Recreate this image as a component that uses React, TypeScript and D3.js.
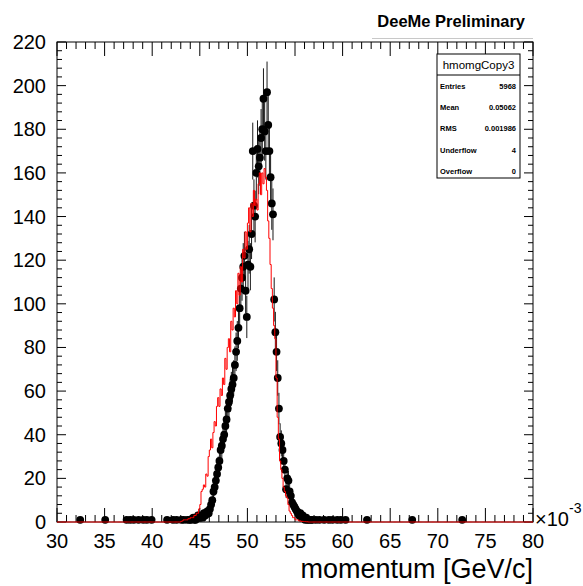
import React from "react";
import * as d3 from "d3";

// ---- histogram definition (momentum in MeV/c, axis shown as GeV/c ×10^-3) ----
const X_MIN = 30;
const X_MAX = 80;
const N_BINS = 400;
const Y_MAX = 220;
const FIRST_BIN_MEV = 43.0;

// black data histogram (counts per bin, starting at 43.0 MeV/c, 8 bins per MeV)
const dataCounts: number[] = [
  1, 0, 1, 0, 0, 1, 0, 1,
  1, 0, 2, 1, 1, 2, 3, 2,
  2, 3, 2, 4, 3, 4, 5, 4,
  6, 8, 10, 14, 16, 19, 22, 25,
  28, 33, 35, 38, 40, 44, 47, 52,
  55, 58, 61, 63, 66, 72, 78, 83,
  89, 98, 107, 112, 117, 122, 106, 94,
  118, 125, 117, 132, 170, 145, 140, 160,
  171, 163, 167, 176, 180, 194, 179, 170,
  197, 182, 170, 158, 146, 141, 102, 87,
  78, 66, 52, 39, 36, 33, 28, 24,
  15, 20, 19, 14, 12, 9, 8, 7,
  6, 5, 4, 3, 4, 2, 3, 2,
  1, 2, 1, 1, 0, 1, 1, 0,
];

// isolated single entries in the tails (MeV/c)
const dataSingles: number[] = [
  32.4, 35.1, 37.3, 37.7, 38.1, 38.6, 39.0, 39.4, 39.9, 41.6, 42.2, 42.6,
  57.2, 57.6, 58.1, 58.5, 58.9, 59.4, 59.8, 60.3, 62.5, 67.3, 72.6,
];

// red comparison histogram (same binning, starting at 43.0 MeV/c)
const mcCounts: number[] = [
  0.3, 0.5, 1, 1, 1, 1, 1.5, 1.5,
  2, 2, 2, 3, 3, 4, 4, 6,
  8, 14, 15, 17, 16, 22, 21, 30,
  33, 38, 34, 41, 46, 44, 53, 57,
  53, 61, 58, 66, 63, 75, 70, 80,
  84, 78, 92, 88, 98, 94, 106, 100,
  114, 104, 117, 110, 125, 121, 133, 125,
  137, 144, 133, 146, 140, 152, 145, 148,
  143, 155, 160, 150, 160, 155, 162, 158,
  152, 138, 130, 118, 107, 98, 90, 84,
  66, 48, 38, 28, 24, 20, 16, 14,
  12, 11, 8, 5, 4, 3, 2, 2,
  1, 1, 1, 0.5, 0.5, 0.3, 0.3, 0.2,
  0.2, 0.1, 0.1, 0, 0, 0, 0, 0,
];

const xMajorTicks: number[] = [30, 35, 40, 45, 50, 55, 60, 65, 70, 75, 80];
const yMajorTicks: number[] = [0, 20, 40, 60, 80, 100, 120, 140, 160, 180, 200, 220];

const titleText = "DeeMe Preliminary";
const xAxisTitle = "momentum [GeV/c]";
const statsTitle = "hmomgCopy3";
const statsLabels: string[] = ["Entries", "Mean", "RMS", "Underflow", "Overflow"];
const statsValues: string[] = ["5968", "0.05062", "0.001986", "4", "0"];

const FONT = "'Liberation Sans', Arial, Helvetica, sans-serif";

export default function App() {
  const W = 583;
  const H = 586;
  const L = 57, R = 533, T = 42, B = 522;

  const x = d3.scaleLinear().domain([X_MIN, X_MAX]).range([L, R]);
  const y = d3.scaleLinear().domain([0, Y_MAX]).range([B, T]);

  const bw = (X_MAX - X_MIN) / N_BINS;
  const startBin = Math.round((FIRST_BIN_MEV - X_MIN) / bw);

  const data = new Array(N_BINS).fill(0);
  dataCounts.forEach((c, i) => (data[startBin + i] += c));
  dataSingles.forEach((v) => (data[Math.floor((v - X_MIN) / bw)] += 1));

  const mc = new Array(N_BINS).fill(0);
  mcCounts.forEach((c, i) => (mc[startBin + i] = c));

  const stepPts: [number, number][] = mc.map((v, i) => [X_MIN + i * bw, v]);
  stepPts.push([X_MAX, mc[N_BINS - 1]]);
  const stepLine = d3
    .line<[number, number]>()
    .x((d) => x(d[0]))
    .y((d) => y(d[1]))
    .curve(d3.curveStepAfter);

  const xMinor = d3.range(X_MIN, X_MAX + 0.001, 1);
  const yMinor = d3.range(0, Y_MAX + 0.001, 4);

  const points = data
    .map((c, i) => ({ c, xc: X_MIN + (i + 0.5) * bw }))
    .filter((d) => d.c > 0);

  const xMajLen = 14, xMinLen = 7, yMajLen = 9, yMinLen = 5;

  const sx = 437, sy = 54, sw = 83, sh = 124;

  return (
    <svg
      width={W}
      height={H}
      style={{ position: "absolute", left: 0, top: 0, background: "#fff" }}
      fontFamily={FONT}
    >
      <rect x={0} y={0} width={W} height={H} fill="#fff" />
      {/* title */}
      <line x1={372} x2={533} y1={38.5} y2={38.5} stroke="#c8c8c8" strokeWidth={1} />
      <text x={525} y={27} textAnchor="end" fontSize={16.5} fontWeight="bold">
        {titleText}
      </text>

      {/* black data: error bars + markers */}
      <g>
        {points.map((d, i) => {
          const e = Math.sqrt(d.c);
          return (
            <line
              key={"e" + i}
              x1={x(d.xc)}
              x2={x(d.xc)}
              y1={y(Math.max(0, d.c - e))}
              y2={y(d.c + e)}
              stroke="#1a1a1a"
              strokeWidth={1}
            />
          );
        })}
        {points.map((d, i) => (
          <circle key={"m" + i} cx={x(d.xc)} cy={y(d.c)} r={3.9} fill="#000" />
        ))}
      </g>

      {/* frame */}
      <rect x={L} y={T} width={R - L} height={B - T} fill="none" stroke="#000" strokeWidth={1} />

      {/* x ticks bottom & top, y ticks left & right */}
      <g stroke="#000" strokeWidth={1}>
        {xMinor.map((v, i) => {
          const major = Math.abs(v % 5) < 1e-6;
          const len = major ? xMajLen : xMinLen;
          return (
            <g key={"xt" + i}>
              <line x1={x(v)} x2={x(v)} y1={B} y2={B - len} />
              <line x1={x(v)} x2={x(v)} y1={T} y2={T + len} />
            </g>
          );
        })}
        {yMinor.map((v, i) => {
          const major = Math.abs(v % 20) < 1e-6;
          const len = major ? yMajLen : yMinLen;
          return (
            <g key={"yt" + i}>
              <line x1={L} x2={L + len} y1={y(v)} y2={y(v)} />
              <line x1={R} x2={R - len} y1={y(v)} y2={y(v)} />
            </g>
          );
        })}
      </g>

      {/* red histogram on top */}
      <path d={stepLine(stepPts) || ""} fill="none" stroke="#ff0000" strokeWidth={1} />

      {/* tick labels */}
      <g fontSize={20} fill="#000">
        {xMajorTicks.map((v) => (
          <text key={"xl" + v} x={x(v)} y={548} textAnchor="middle">
            {v}
          </text>
        ))}
        {yMajorTicks.map((v) => (
          <text key={"yl" + v} x={46} y={y(v) + 7} textAnchor="end">
            {v}
          </text>
        ))}
      </g>
      <text x={535} y={526} fontSize={20}>
        ×10
      </text>
      <text x={569} y={513} fontSize={14}>
        -3
      </text>
      <text x={533} y={578} textAnchor="end" fontSize={27}>
        {xAxisTitle}
      </text>

      {/* stats box */}
      <rect x={sx} y={sy} width={sw} height={sh} fill="#fff" stroke="#000" strokeWidth={1} />
      <line x1={sx} x2={sx + sw} y1={75} y2={75} stroke="#000" strokeWidth={1} />
      <text x={sx + sw / 2} y={69} textAnchor="middle" fontSize={11.5}>
        {statsTitle}
      </text>
      {statsLabels.map((lab, i) => (
        <g key={"s" + i} fontSize={7.5} fontWeight="bold">
          <text x={sx + 3} y={89 + i * 21.2}>
            {lab}
          </text>
          <text x={sx + sw - 4} y={89 + i * 21.2} textAnchor="end">
            {statsValues[i]}
          </text>
        </g>
      ))}
    </svg>
  );
}
